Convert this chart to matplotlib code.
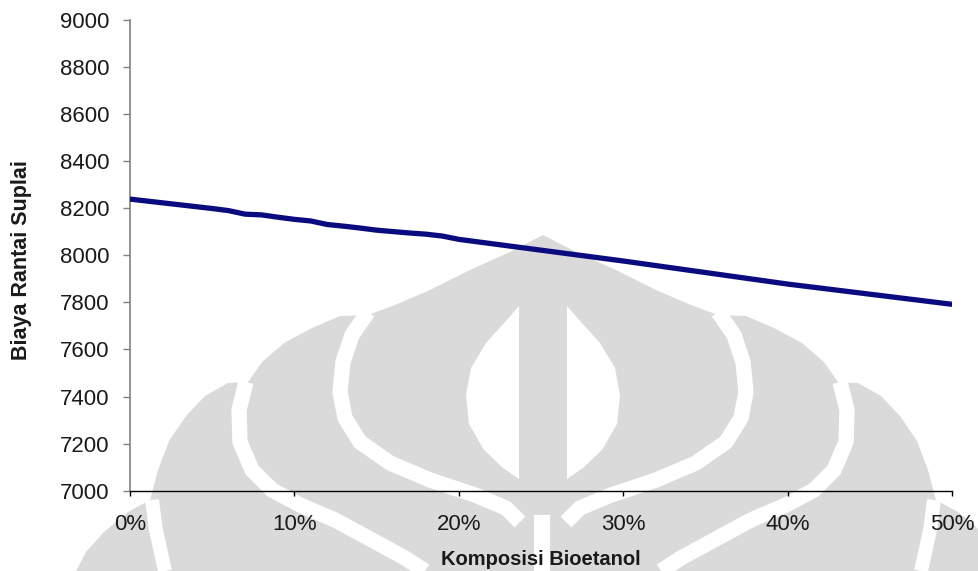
import matplotlib
matplotlib.use("Agg")
import matplotlib.pyplot as plt
from matplotlib.patches import Polygon, Rectangle
from matplotlib.ticker import FuncFormatter

# Bioethanol share (%) and supply-chain cost
komposisi = [0, 1, 2, 3, 4, 5, 6, 7, 8, 9, 10, 11, 12, 13, 14, 15, 16, 17, 18, 19, 20,
             25, 30, 35, 40, 45, 50]
biaya = [8239, 8231, 8223, 8215, 8207, 8199, 8190, 8175, 8172, 8162, 8153, 8146, 8131,
         8124, 8116, 8107, 8101, 8095, 8090, 8082, 8068,
         8022, 7976, 7927, 7878, 7835, 7792]

x_ticks = [0, 10, 20, 30, 40, 50]
y_ticks = [7000, 7200, 7400, 7600, 7800, 8000, 8200, 8400, 8600, 8800, 9000]

plt.rcParams['font.family'] = ['Liberation Sans', 'DejaVu Sans']

W, H = 979, 571
fig = plt.figure(figsize=(W / 100, H / 100), dpi=100)

# ---- faint background logo (page watermark) ----
WM = '#dadada'
CX = 543  # symmetry axis of the logo, in pixels


def to_fig(pts):
    return [(x / W, 1 - y / H) for x, y in pts]


def mirror(pts):
    return [(2 * CX - x, y) for x, y in pts]


def add_poly(pts, color, z):
    fig.add_artist(Polygon(to_fig(pts), closed=True, facecolor=color,
                           edgecolor='none', transform=fig.transFigure, zorder=z))


def add_band(pts, width, z):
    xs, ys = zip(*to_fig(pts))
    fig.add_artist(plt.Line2D(xs, ys, color='white', linewidth=width,
                              solid_capstyle='butt', solid_joinstyle='round',
                              transform=fig.transFigure, zorder=z))


left_outline = [(543, 235), (510, 252), (470, 270), (430, 290), (395, 305), (368, 315),
                (340, 316), (312, 328), (284, 343), (262, 362), (248, 382),
                (228, 383), (205, 396), (186, 416), (169, 441), (158, 470), (150, 500),
                (128, 512), (104, 532), (86, 552), (76, 571)]
silhouette = left_outline + mirror(left_outline)[::-1]
add_poly(silhouette, WM, -5)

band_a = [(368, 312), (352, 335), (343, 362), (340, 392), (345, 418), (360, 442),
          (390, 463), (430, 480), (475, 495), (506, 508), (520, 522)]
band_b = [(246, 382), (239, 410), (240, 442), (252, 470), (272, 490), (300, 505),
          (335, 520), (372, 540), (405, 558), (425, 571)]
band_c = [(152, 500), (156, 530), (165, 571)]
for band, lw in ((band_a, 11), (band_b, 11), (band_c, 10)):
    add_band(band, lw, -4)
    add_band(mirror(band), lw, -4)

lens = [(519, 306), (505, 322), (486, 343), (471, 368), (466, 395), (469, 424),
        (484, 450), (503, 468), (519, 479)]
add_poly(lens, 'white', -4)
add_poly(mirror(lens), 'white', -4)
fig.add_artist(Rectangle((534 / W, 0), 16 / W, (571 - 515) / H, facecolor='white',
                         edgecolor='none', transform=fig.transFigure, zorder=-4))

# ---- chart ----
ax = fig.add_axes([130 / W, 1 - 490.7 / H, 822 / W, 470.7 / H])
ax.patch.set_alpha(0)

ax.plot(komposisi, biaya, color='#0b0b80', linewidth=3.8, solid_capstyle='round',
        solid_joinstyle='round', zorder=3)

ax.set_xlim(0, 50)
ax.set_ylim(7000, 9000)
ax.set_xticks(x_ticks)
ax.set_yticks(y_ticks)
ax.xaxis.set_major_formatter(FuncFormatter(lambda v, p: f"{int(v)}%"))

for s in ('top', 'right'):
    ax.spines[s].set_visible(False)
ax.spines['left'].set_color('#808080')
ax.spines['left'].set_linewidth(1.2)
ax.spines['bottom'].set_color('#000000')
ax.spines['bottom'].set_linewidth(1.0)

ax.tick_params(axis='y', direction='out', length=5, width=1.0, color='#808080',
               labelsize=16, pad=9.5, labelcolor='#1a1a1a')
ax.tick_params(axis='x', direction='out', length=3.6, width=1.0, color='#000000',
               labelsize=16, pad=13, labelcolor='#1a1a1a')

ax.set_xlabel('Komposisi Bioetanol', fontsize=14.5, fontweight='bold', color='#1a1a1a')
ax.set_ylabel('Biaya Rantai Suplai', fontsize=15.5, fontweight='bold', color='#1a1a1a')
ax.xaxis.set_label_coords(0.5, (490.7 - 550) / 470.7)
ax.yaxis.set_label_coords((32 - 130) / 822, (490.7 - 260) / 470.7)

fig.savefig('out.png', dpi=100)
